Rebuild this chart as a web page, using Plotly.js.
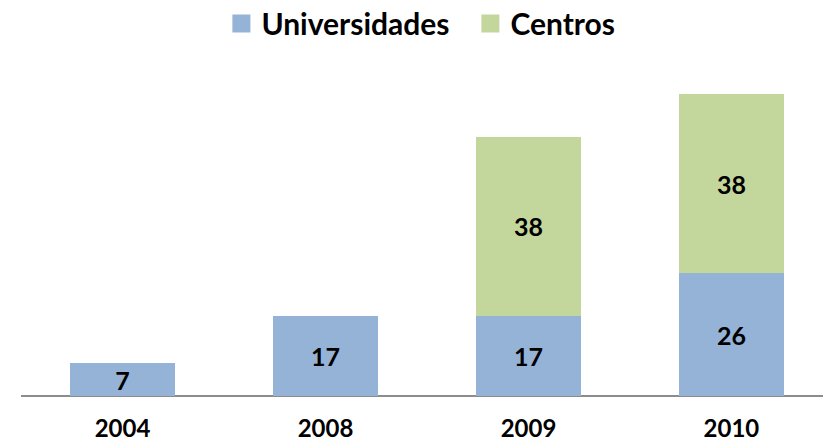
<!DOCTYPE html>
<html>
<head>
<meta charset="utf-8">
<script src="https://cdn.plot.ly/plotly-3.0.1.min.js"></script>
<style>html,body{margin:0;padding:0;background:#fff;}#chart{width:823px;height:443px;}</style>
</head>
<body>
<div id="chart"></div>
<script>
const years = ['2004', '2008', '2009', '2010'];
const universidades = [7, 17, 17, 26];
const centros = [null, null, 38, 38];

const FONT = 'Lato, "Open Sans", sans-serif';

const traces = [
  {
    type: 'bar', name: 'Universidades', x: years, y: universidades,
    marker: {color: '#95B3D7'},
    text: universidades.map(v => v == null ? '' : String(v)),
    textposition: 'inside', insidetextanchor: 'middle', constraintext: 'none', textangle: 0,
    textfont: {family: FONT, size: 25, color: '#000', weight: 'bold'},
    hoverinfo: 'skip'
  },
  {
    type: 'bar', name: 'Centros', x: years, y: centros,
    marker: {color: '#C3D69B'},
    text: centros.map(v => v == null ? '' : String(v)),
    textposition: 'inside', insidetextanchor: 'middle', constraintext: 'none', textangle: 0,
    textfont: {family: FONT, size: 25, color: '#000', weight: 'bold'},
    hoverinfo: 'skip'
  }
];

const layout = {
  width: 823, height: 443,
  margin: {l: 21, r: 0, t: 60, b: 47},
  barmode: 'stack',
  bargap: 0.483,
  paper_bgcolor: '#fff', plot_bgcolor: '#fff',
  showlegend: true,
  legend: {
    orientation: 'h', xref: 'container', x: 0.269, xanchor: 'left',
    yref: 'container', y: 0.947, yanchor: 'middle',
    font: {family: FONT, size: 30, color: '#000', weight: 'bold'},
    traceorder: 'normal', itemwidth: 30, entrywidth: 204, entrywidthmode: 'pixels',
    bgcolor: 'rgba(0,0,0,0)'
  },
  xaxis: {
    type: 'category', range: [-0.5, 3.451],
    showgrid: false, zeroline: false,
    showline: false, ticks: '', ticklabelstandoff: 16,
    tickfont: {family: FONT, size: 24, color: '#000', weight: 'bold'},
    fixedrange: true
  },
  yaxis: {
    range: [0, 71.3], showgrid: false, zeroline: true, zerolinecolor: '#8c8c8c', zerolinewidth: 1.5,
    showticklabels: false, showline: false, ticks: '', fixedrange: true
  }
};

Plotly.newPlot('chart', traces, layout, {displayModeBar: false, staticPlot: true}).then(function (gd) {
  // enlarge legend swatches to match the reference's larger squares
  gd.querySelectorAll('.legend .legendpoints path').forEach(function (p) {
    const t = p.getAttribute('transform') || '';
    p.setAttribute('transform', t + ' scale(1.5)');
  });
});
</script>
</body>
</html>
